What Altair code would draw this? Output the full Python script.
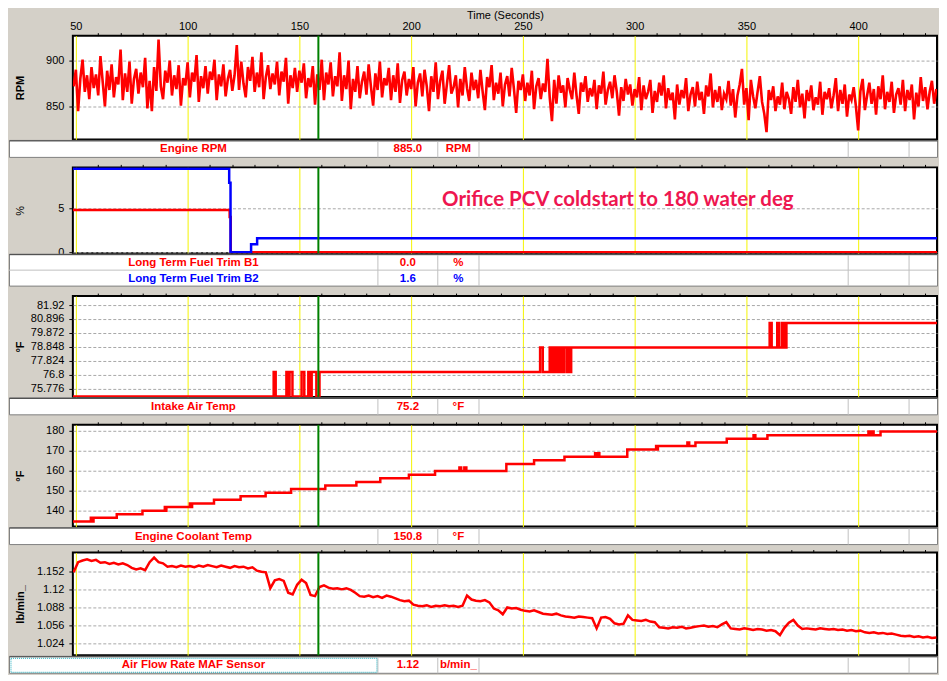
import altair as alt
import pandas as pd
import numpy as np

BG = "#d4d0c8"
FONT = "Liberation Sans"

# ---------------- data ----------------
time_domain = [48.66, 435.27]
time_ticks = list(range(50, 440, 10))
cursor_time = 158.5

rpm_t0, rpm_dt = 49, 1.0
rpm_values = [
    872, 890, 845, 880, 901, 866, 884, 858, 893, 870,
    885, 862, 905, 877, 850, 889, 868, 896, 860, 882,
    874, 912, 857, 886, 866, 899, 853, 880, 891, 864,
    887, 871, 903, 848, 878, 845, 893, 867, 923, 872,
    858, 889, 876, 900, 862, 884, 869, 895, 851, 881,
    873, 898, 860, 887, 877, 906, 855, 883, 870, 894,
    864, 888, 879, 901, 857, 885, 872, 896, 861, 880,
    890, 867, 884, 917, 868, 899, 875, 860, 893, 878,
    904, 866, 887, 871, 909, 858, 882, 895, 869, 886,
    874, 899, 862, 888, 877, 903, 853, 884, 870, 892,
    866, 889, 876, 897, 859, 881, 871, 894, 852, 885,
    868, 901, 857, 887, 874, 898, 861, 883, 872, 909,
    856, 884, 869, 900, 847, 880, 866, 894, 859, 877,
    888, 863, 896, 872, 851, 886, 868, 899, 860, 881,
    873, 892, 857, 884, 866, 897, 854, 879, 888, 862,
    880, 869, 893, 850, 876, 886, 861, 890, 872, 845,
    883, 866, 898, 858, 878, 889, 853, 874, 895, 864,
    871, 884, 849, 880, 862, 893, 870, 856, 887, 868,
    879, 859, 890, 866, 846, 882, 871, 895, 857, 876,
    864, 887, 850, 874, 883, 861, 892, 869, 843, 878,
    868, 885, 856, 876, 862, 889, 847, 872, 881, 858,
    875, 866, 902, 860, 834, 879, 853, 884, 865, 873,
    849, 881, 868, 858, 887, 862, 842, 876, 866, 883,
    855, 870, 861, 879, 847, 873, 864, 888, 852, 868,
    877, 859, 884, 866, 840, 871, 856, 880, 863, 874,
    851, 869, 860, 882, 846, 873, 858, 866, 879, 843,
    867, 855, 876, 862, 884, 848, 870, 857, 865, 836,
    874, 852, 868, 859, 881, 845, 863, 871, 850, 877,
    857, 866, 842, 873, 861, 886, 849, 868, 855, 872,
    846, 864, 858, 878, 851, 869, 838, 862, 874, 891,
    852, 870, 835, 879, 861, 848, 866, 883, 855, 842,
    822, 868, 857, 872, 845, 861, 852, 876, 847, 866,
    858, 842, 871, 855, 879, 849, 864, 837, 868, 856,
    873, 846, 860, 852, 877, 841, 866, 858, 870, 848,
    862, 881, 845, 868, 853, 874, 839, 863, 857, 871,
    850, 824, 867, 880, 846, 862, 876, 853, 869, 841,
    872, 858, 884, 847, 866, 855, 877, 843, 863, 870,
    852, 879, 845, 868, 857, 874, 836, 865, 850, 882,
    856, 871, 847, 866, 878, 853, 869,
]

ltft_b1_t = [48.66, 118.8, 119.3, 435.27]
ltft_b1_v = [4.8, 4.0, 0.0, 0.0]
ltft_b2_t = [48.66, 118.6, 119.2, 128.4, 131.1, 435.27]
ltft_b2_v = [9.5, 7.9, 0.0, 0.9, 1.6, 1.6]

iat_t = [48.66, 138.5, 139.4, 144.2, 145.0, 145.6, 146.9, 151.0, 152.2, 154.0,
         154.9, 155.5, 157.6, 159.0, 257.7, 258.9, 262.0, 262.9, 263.5, 264.6,
         265.5, 266.4, 267.0, 267.7, 268.3, 269.5, 270.2, 271.0, 271.6, 360.4,
         361.3, 363.8, 364.7, 366.0, 366.9, 367.9, 435.27]
iat_v = [75.2, 77.0, 75.2, 77.0, 75.2, 77.0, 75.2, 77.0, 75.2, 77.0,
         75.2, 77.0, 75.2, 77.0, 78.8, 77.0, 78.8, 77.0, 78.8, 77.0,
         78.8, 77.0, 78.8, 77.0, 78.8, 77.0, 78.8, 77.0, 78.8, 80.6,
         78.8, 80.6, 78.8, 80.6, 78.8, 80.6, 80.6]

ect_t = [48.66, 56.7, 57.3, 57.9, 68.3, 79.8, 89.8, 90.2, 90.5, 101.0,
         101.6, 102.0, 111.8, 123.7, 134.9, 146.3, 161.6, 175.5, 186.2, 199.0,
         210.7, 221.6, 222.4, 223.8, 224.7, 242.6, 255.0, 268.6, 282.3, 283.0,
         283.6, 284.2, 296.7, 309.6, 310.0, 310.4, 323.6, 324.4, 327.2, 341.2,
         353.2, 354.0, 359.4, 404.6, 405.5, 406.2, 406.9, 410.0, 435.27]
ect_v = [134.6, 136.4, 134.6, 136.4, 138.2, 140.0, 141.8, 140.0, 141.8, 143.6,
         141.8, 143.6, 145.4, 147.2, 149.0, 150.8, 152.6, 154.4, 156.2, 158.0,
         159.8, 161.6, 159.8, 161.6, 159.8, 163.4, 165.2, 167.0, 168.8, 167.0,
         168.8, 167.0, 170.6, 172.4, 170.6, 172.4, 174.2, 172.4, 174.2, 176.0,
         177.8, 176.0, 177.8, 179.6, 177.8, 179.6, 177.8, 179.6, 179.6]

maf_t0, maf_dt = 49, 2.0
maf_values = [
    1.150, 1.168, 1.171, 1.173, 1.170, 1.172, 1.167, 1.168, 1.165, 1.167,
    1.164, 1.166, 1.163, 1.158, 1.155, 1.157, 1.154, 1.168, 1.176, 1.168,
    1.166, 1.160, 1.161, 1.159, 1.162, 1.160, 1.161, 1.159, 1.162, 1.160,
    1.163, 1.161, 1.159, 1.162, 1.160, 1.158, 1.161, 1.159, 1.160, 1.157,
    1.159, 1.153, 1.151, 1.150, 1.122, 1.136, 1.138, 1.135, 1.114, 1.111,
    1.128, 1.137, 1.131, 1.110, 1.108, 1.124, 1.127, 1.123, 1.121, 1.122,
    1.120, 1.122, 1.119, 1.114, 1.108, 1.107, 1.109, 1.106, 1.108, 1.105,
    1.109, 1.107, 1.104, 1.101, 1.099, 1.100, 1.093, 1.091, 1.090, 1.092,
    1.089, 1.091, 1.090, 1.092, 1.090, 1.091, 1.089, 1.091, 1.109, 1.102,
    1.100, 1.099, 1.101, 1.097, 1.086, 1.083, 1.076, 1.088, 1.086, 1.087,
    1.084, 1.082, 1.081, 1.083, 1.080, 1.077, 1.076, 1.075, 1.077, 1.074,
    1.072, 1.071, 1.070, 1.072, 1.071, 1.070, 1.069, 1.051, 1.070, 1.071,
    1.068, 1.060, 1.058, 1.059, 1.074, 1.066, 1.065, 1.064, 1.066, 1.063,
    1.062, 1.053, 1.052, 1.051, 1.053, 1.052, 1.054, 1.051, 1.052, 1.054,
    1.055, 1.056, 1.054, 1.055, 1.053, 1.058, 1.062, 1.051, 1.050, 1.049,
    1.051, 1.050, 1.048, 1.050, 1.049, 1.047, 1.048, 1.046, 1.039, 1.052,
    1.061, 1.066, 1.056, 1.050, 1.051, 1.050, 1.049, 1.051, 1.050, 1.049,
    1.050, 1.048, 1.049, 1.047, 1.048, 1.046, 1.047, 1.044, 1.043, 1.044,
    1.042, 1.043, 1.041, 1.042, 1.040, 1.038, 1.037, 1.038, 1.036, 1.037,
    1.035, 1.036, 1.034, 1.035,
]

# axis domains / ticks
rpm_domain, rpm_ticks = [814.1, 927.2], [850, 900]
ltft_domain, ltft_ticks = [-0.11, 9.66], [0, 5]
iat_domain, iat_ticks = [75.17, 82.58], [75.776, 76.8, 77.824, 78.848, 79.872, 80.896, 81.92]
ect_domain, ect_ticks = [132, 183], [140, 150, 160, 170, 180]
maf_domain, maf_ticks = [1.0034, 1.185], [1.024, 1.056, 1.088, 1.12, 1.152]

# legend table rows
rpm_legend = dict(name=["Engine RPM"], value=["885.0"], unit=["RPM"], color=["#ff0000"])
ltft_legend = dict(name=["Long Term Fuel Trim B1", "Long Term Fuel Trim B2"],
                   value=["0.0", "1.6"], unit=["%", "%"], color=["#ff0000", "#0000ff"])
iat_legend = dict(name=["Intake Air Temp"], value=["75.2"], unit=["°F"], color=["#ff0000"])
ect_legend = dict(name=["Engine Coolant Temp"], value=["150.8"], unit=["°F"], color=["#ff0000"])
maf_legend = dict(name=["Air Flow Rate MAF Sensor"], value=["1.12"], unit=["b/min_"], color=["#ff0000"])

annotation_text = "Orifice PCV coldstart to 180 water deg"

# ---------------- layout ----------------
PLOT_W = 866
plot_heights = [104, 86, 101, 102, 103]
legend_heights = [28, 43, 28, 26, 18]

ONE = alt.Data(values=[{"k": 0}])


def x_enc(first):
    common = dict(
        orient="top", values=time_ticks, domain=False, grid=True,
        gridColor=alt.condition("datum.value % 50 === 0", alt.value("#f4f400"), alt.value("transparent")),
        gridWidth=1,
        tickColor=alt.condition("datum.value % 50 === 0", alt.value("transparent"), alt.value("#000000")),
        tickSize=3, labelFlush=False, labelOverlap=False,
    )
    if first:
        axis = alt.Axis(labelExpr="datum.value % 50 === 0 ? datum.label : ''",
                        title="Time (Seconds)", titleFontWeight="normal", titleFontSize=11,
                        titlePadding=0, labelFontSize=11, labelPadding=1, labelColor="#000000",
                        titleColor="#000000", **common)
    else:
        axis = alt.Axis(labels=False, title=None, **common)
    return alt.X("t:Q", scale=alt.Scale(domain=time_domain, nice=False, zero=False), axis=axis)


def y_enc(domain, ticks, title, h, bold):
    return alt.Y(
        "v:Q",
        scale=alt.Scale(domain=domain, nice=False, zero=False),
        axis=alt.Axis(values=ticks, labelExpr="'' + datum.value", title=title,
                      titleX=-52, titleY=h / 2, titleAlign="center", titleBaseline="middle",
                      titleFontWeight="bold" if bold else "normal", titleFontSize=11,
                      titleColor="#000000", labelColor="#000000", labelFontSize=11,
                      tickSize=4, tickColor="#000000", labelPadding=5, domain=False,
                      grid=True, gridDash=[3, 2], gridColor="#a8a8a8", labelFlush=False,
                      labelOverlap=False),
    )


def plot_panel(layers_data, domain, ticks, title, h, bold, first=False, extra=None):
    layers = []
    for df, color, sw, interp in layers_data:
        layers.append(
            alt.Chart(df).mark_line(color=color, strokeWidth=sw, interpolate=interp, clip=True)
            .encode(x=x_enc(first), y=y_enc(domain, ticks, title, h, bold))
        )
    cur = pd.DataFrame({"t": [cursor_time]})
    layers.append(
        alt.Chart(cur).mark_rule(color="#008000", strokeWidth=2).encode(x=x_enc(first))
    )
    if extra is not None:
        layers.append(extra)
    return alt.layer(*layers).properties(
        width=PLOT_W, height=h,
        view=alt.ViewBackground(fill="white", stroke="#000000", strokeWidth=2),
    )


SEP_X = [305.7, 365.7, 407, 777, 838]
BOX_L, BOX_R = -64, 867


def legend_panel(rows, h, top, row_h, focus=False):
    n = len(rows["name"])
    bottom = top + n * row_h
    layers = [
        alt.Chart(ONE).mark_rect(fill="white", stroke="#808080", strokeWidth=1).encode(
            x=alt.value(BOX_L + 0.5), x2=alt.value(BOX_R - 0.5), y=alt.value(top), y2=alt.value(bottom)),
        alt.Chart(ONE).mark_rule(color="#404040", strokeWidth=1).encode(
            x=alt.value(BOX_L + 0.5), x2=alt.value(BOX_R - 0.5), y=alt.value(top + 0.5)),
    ]
    for i in range(1, n):
        layers.append(alt.Chart(ONE).mark_rule(color="#c0c0c0", strokeWidth=1).encode(
            x=alt.value(BOX_L), x2=alt.value(BOX_R - 1), y=alt.value(top + i * row_h)))
    for sx in SEP_X:
        layers.append(alt.Chart(ONE).mark_rule(color="#c0c0c0", strokeWidth=1).encode(
            x=alt.value(sx), y=alt.value(top + 1), y2=alt.value(bottom)))
    if focus:
        layers.append(alt.Chart(ONE).mark_rect(fill="transparent", stroke="#20b0c0",
                                               strokeWidth=1, strokeDash=[1, 1]).encode(
            x=alt.value(BOX_L + 2), x2=alt.value(SEP_X[0] - 1), y=alt.value(top + 2),
            y2=alt.value(bottom - 1)))
    for i in range(n):
        df = pd.DataFrame({k: [rows[k][i]] for k in rows})
        yc = top + i * row_h + row_h / 2 + 0.5
        for field, xc in [("name", (BOX_L + SEP_X[0]) / 2), ("value", (SEP_X[0] + SEP_X[1]) / 2),
                          ("unit", (SEP_X[1] + SEP_X[2]) / 2)]:
            layers.append(
                alt.Chart(df).mark_text(font=FONT, fontSize=11.5, fontWeight="bold",
                                        align="center", baseline="middle").encode(
                    x=alt.value(xc), y=alt.value(yc), text=alt.Text(f"{field}:N"),
                    color=alt.Color("color:N", scale=None)))
    return alt.layer(*layers).properties(width=PLOT_W, height=h)


rpm_df = pd.DataFrame({"t": rpm_t0 + np.arange(len(rpm_values)) * rpm_dt, "v": rpm_values})
maf_df = pd.DataFrame({"t": maf_t0 + np.arange(len(maf_values)) * maf_dt, "v": maf_values})
b1_df = pd.DataFrame({"t": ltft_b1_t, "v": ltft_b1_v})
b2_df = pd.DataFrame({"t": ltft_b2_t, "v": ltft_b2_v})
iat_df = pd.DataFrame({"t": iat_t, "v": iat_v})
ect_df = pd.DataFrame({"t": ect_t, "v": ect_v})

annot = alt.Chart(alt.Data(values=[{"label": annotation_text}])).mark_text(
    font="Lato", fontSize=20.5, fontWeight="bold", color="#ee1650", align="left",
    baseline="middle").encode(x=alt.value(370), y=alt.value(33), text="label:N")

p1 = plot_panel([(rpm_df, "#ff0000", 2.6, "linear")], rpm_domain, rpm_ticks, "RPM",
                plot_heights[0], True, first=True)
p2 = plot_panel([(b1_df, "#ff0000", 2.5, "step-after"), (b2_df, "#0000ff", 2.5, "step-after")],
                ltft_domain, ltft_ticks, "%", plot_heights[1], False, extra=annot)
p3 = plot_panel([(iat_df, "#ff0000", 2.5, "step-after")], iat_domain, iat_ticks, "°F",
                plot_heights[2], True)
p4 = plot_panel([(ect_df, "#ff0000", 2.5, "step-after")], ect_domain, ect_ticks, "°F",
                plot_heights[3], True)
p5 = plot_panel([(maf_df, "#ff0000", 2.5, "linear")], maf_domain, maf_ticks, "lb/min_",
                plot_heights[4], True)

l1 = legend_panel(rpm_legend, legend_heights[0], 1, 17)
l2 = legend_panel(ltft_legend, legend_heights[1], 1, 16)
l3 = legend_panel(iat_legend, legend_heights[2], 1, 17)
l4 = legend_panel(ect_legend, legend_heights[3], 1, 17)
l5 = legend_panel(maf_legend, legend_heights[4], 1, 17, focus=True)

chart = alt.vconcat(p1, l1, p2, l2, p3, l3, p4, l4, p5, l5, spacing=0, bounds="flush") \
    .resolve_scale(x="independent", y="independent") \
    .properties(padding=0, background=BG) \
    .configure_view(stroke="transparent") \
    .configure_axis(labelFont=FONT, titleFont=FONT) \
    .configure_text(font=FONT)

chart.save("out.html", embed_options={"renderer": "svg", "actions": False})
